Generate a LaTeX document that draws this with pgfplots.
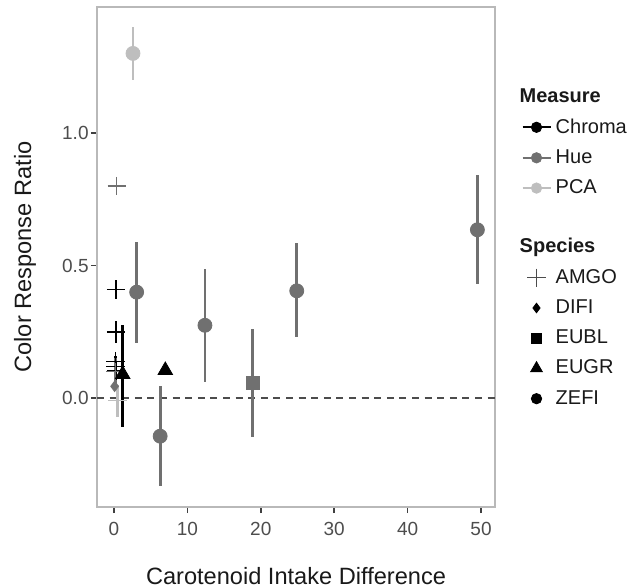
\documentclass[border=0pt]{standalone}
\usepackage{fontspec}
\setmainfont{Liberation Sans}
\usepackage{pgfplots}
\pgfplotsset{compat=1.18}
\definecolor{chroma}{RGB}{0,0,0}
\definecolor{hue}{RGB}{112,112,112}
\definecolor{pca}{RGB}{190,190,190}
\definecolor{frame}{RGB}{185,185,185}
\definecolor{ticktxt}{RGB}{77,77,77}

% x y plus minus
\pgfplotstableread{
x y ep em
0.3 0.41 0.02 0.02
0.3 0.25 0.04 0.04
0.2 0.14 0.02 0.02
0.2 0.12 0.02 0.02
0.3 0.105 0.03 0.03
}\chromaAMGO
\pgfplotstableread{
x y ep em
1.2 0.09 0.185 0.20
7.0 0.105 0 0
}\chromaEUGR
\pgfplotstableread{
x y ep em
0.4 0.80 0 0
0.2 0.10 0.05 0.05
}\hueAMGO
\pgfplotstableread{
x y ep em
0.1 0.045 0 0
}\hueDIFI
\pgfplotstableread{
x y ep em
18.9 0.057 0.203 0.204
}\hueEUBL
\pgfplotstableread{
x y ep em
3.1 0.40 0.19 0.19
6.3 -0.143 0.188 0.187
12.4 0.275 0.212 0.215
24.9 0.405 0.18 0.175
49.5 0.635 0.205 0.205
}\hueZEFI
\pgfplotstableread{
x y ep em
2.6 1.30 0.10 0.10
}\pcaZEFI
\pgfplotstableread{
x y ep em
0.5 -0.01 0.06 0.06
}\pcaAMGO

\pgfplotsset{
  ebar/.style={forget plot, only marks,
    error bars/y dir=both, error bars/y explicit, error bars/error mark=none,
    error bars/error bar style={line width=1.4pt,#1}},
}

\begin{document}
\begin{tikzpicture}
\begin{axis}[
  scale only axis, width=199pt, height=250pt,
  xmin=-2.3, xmax=51.9, ymin=-0.41, ymax=1.475,
  xtick={0,10,20,30,40,50}, ytick={0,0.5,1},
  /pgf/number format/assume math mode=true,
  tick label style={font=\fontsize{9.5}{11}\selectfont, text=ticktxt},
  yticklabel style={inner sep=1pt, /pgf/number format/.cd, fixed, fixed zerofill, precision=1},
  xticklabel style={yshift=-1pt},
  xlabel={Carotenoid Intake Difference},
  ylabel={Color Response Ratio},
  every axis x label/.style={at={(axis description cs:0.5,0)}, yshift=-38.5pt, anchor=base,
    font=\fontsize{11.8}{13}\selectfont, text=black!90},
  every axis y label/.style={at={(axis description cs:0,0.5)}, xshift=-36pt, rotate=90, anchor=center,
    font=\fontsize{11.8}{13}\selectfont, text=black!90},
  axis line style={frame, line width=1pt},
  tick align=outside, tick pos=left,
  major tick length=3pt,
  every tick/.style={black!75, line width=0.8pt},
  legend style={draw=none, fill=none, at={(1.05,0.854)}, anchor=north west,
    font=\fontsize{10}{12}\selectfont, row sep=2.7pt, text=black!90,
    /tikz/every even column/.append style={column sep=0pt}},
  legend cell align=left,
]
\addplot[black!70, dash pattern=on 3.5pt off 2.8pt, line width=1pt, forget plot] coordinates {(-2.3,0) (51.9,0)};

\addplot[ebar=chroma, mark=+, mark size=4.6pt, chroma, mark options={line width=0.6pt}]
  table[x=x, y=y, y error plus=ep, y error minus=em] {\chromaAMGO};
\addplot[ebar=hue, mark=+, mark size=4.6pt, hue, mark options={line width=0.6pt}]
  table[x=x, y=y, y error plus=ep, y error minus=em] {\hueAMGO};
\addplot[ebar=pca, mark=+, mark size=4.6pt, pca, mark options={line width=0.6pt}]
  table[x=x, y=y, y error plus=ep, y error minus=em] {\pcaAMGO};
\addplot[ebar=hue, mark=diamond*, mark size=2.6pt, hue]
  table[x=x, y=y, y error plus=ep, y error minus=em] {\hueDIFI};
\addplot[ebar=hue, mark=square*, mark size=3.2pt, hue]
  table[x=x, y=y, y error plus=ep, y error minus=em] {\hueEUBL};
\addplot[ebar=hue, mark=*, mark size=3.5pt, hue]
  table[x=x, y=y, y error plus=ep, y error minus=em] {\hueZEFI};
\addplot[ebar=pca, mark=*, mark size=3.5pt, pca]
  table[x=x, y=y, y error plus=ep, y error minus=em] {\pcaZEFI};
\addplot[ebar=chroma, mark=triangle*, mark size=4.2pt, chroma]
  table[x=x, y=y, y error plus=ep, y error minus=em] {\chromaEUGR};

\addlegendimage{empty legend}
\addlegendentry{\hspace*{-18pt}\textbf{Measure}}
\addlegendimage{legend image code/.code={\draw[chroma,line width=1.2pt] (0pt,0pt) -- (14pt,0pt); \fill[chroma] (7pt,0pt) circle (2.6pt);}}
\addlegendentry{Chroma}
\addlegendimage{legend image code/.code={\draw[hue,line width=1.2pt] (0pt,0pt) -- (14pt,0pt); \fill[hue] (7pt,0pt) circle (2.6pt);}}
\addlegendentry{Hue}
\addlegendimage{legend image code/.code={\draw[pca,line width=1.2pt] (0pt,0pt) -- (14pt,0pt); \fill[pca] (7pt,0pt) circle (2.6pt);}}
\addlegendentry{PCA}
\addlegendimage{empty legend}
\addlegendentry{\rule{0pt}{6pt}}
\addlegendimage{empty legend}
\addlegendentry{\hspace*{-18pt}\textbf{Species}}
\addlegendimage{legend image code/.code={\draw[black!70,line width=0.6pt] plot[only marks, mark=+, mark size=4.6pt] coordinates {(7pt,0pt)};}}
\addlegendentry{AMGO}
\addlegendimage{legend image code/.code={\fill[black] plot[only marks, mark=diamond*, mark size=2.4pt] coordinates {(7pt,0pt)};}}
\addlegendentry{DIFI}
\addlegendimage{legend image code/.code={\fill[black] plot[only marks, mark=square*, mark size=2.4pt] coordinates {(7pt,0pt)};}}
\addlegendentry{EUBL}
\addlegendimage{legend image code/.code={\fill[black] plot[only marks, mark=triangle*, mark size=3.4pt] coordinates {(7pt,0pt)};}}
\addlegendentry{EUGR}
\addlegendimage{legend image code/.code={\fill[black] plot[only marks, mark=*, mark size=2.6pt] coordinates {(7pt,0pt)};}}
\addlegendentry{ZEFI}
\end{axis}
\pgfresetboundingbox
\path ([xshift=-48.5pt,yshift=3.5pt]current axis.north west) rectangle ([xshift=69.5pt,yshift=-40pt]current axis.south east);
\end{tikzpicture}
\end{document}
